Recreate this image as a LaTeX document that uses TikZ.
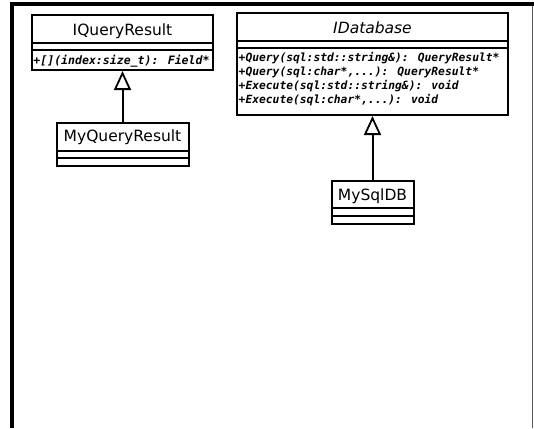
\documentclass[tikz,border=0pt]{standalone}
\usepackage{fontspec}
\setmainfont{DejaVu Sans}
\newfontfamily\opfont{DejaVu Sans Mono}
\usetikzlibrary{arrows.meta}

\tikzset{
  classbox/.style={draw, line width=2pt, inner sep=0pt, fill=white},
  classname/.style={font=\fontsize{15.5}{18}\selectfont, inner sep=0pt},
  abstractname/.style={classname, font=\fontsize{15.5}{18}\selectfont\itshape},
  optext/.style={font=\opfont\bfseries\itshape\fontsize{#1}{14}\selectfont, anchor=west, inner sep=0pt},
  optext/.default=11.3,
  divider/.style={line width=1.8pt},
  realize/.style={line width=2pt, -{Triangle[open, length=19pt, width=17pt, line width=1.8pt]}},
}

\begin{document}
\begin{tikzpicture}[x=1pt, y=-1pt]
  \useasboundingbox (0,0) rectangle (534,428);
  \fill[white] (0,0) rectangle (534,428);

  % frame of the diagram area
  \draw[gray!70!black, line width=1.5pt] (532.5,5) -- (532.5,428);
  \draw[line width=3.5pt] (11.75,428) -- (11.75,4) -- (534,4);

  % IQueryResult
  \node[classbox, minimum width=181pt, minimum height=55pt] (iqr) at (122.5,42.5) {};
  \draw[divider] (iqr.west |- 0,43) -- (iqr.east |- 0,43);
  \draw[divider] (iqr.west |- 0,50) -- (iqr.east |- 0,50);
  \node[classname] (iqrname) at (122.5,31) {IQueryResult};
  \node[optext=11.55] (iqrop) at (33.2,61) {+[](index:size\_t): Field*};

  % MyQueryResult
  \node[classbox, minimum width=132pt, minimum height=43pt] (mqr) at (122.5,144.5) {};
  \draw[divider] (mqr.west |- 0,151) -- (mqr.east |- 0,151);
  \draw[divider] (mqr.west |- 0,158) -- (mqr.east |- 0,158);
  \node[classname] (mqrname) at (122.5,137) {MyQueryResult};

  % IDatabase
  \node[classbox, minimum width=271pt, minimum height=102pt] (idb) at (372.5,64) {};
  \draw[divider] (idb.west |- 0,41) -- (idb.east |- 0,41);
  \draw[divider] (idb.west |- 0,48) -- (idb.east |- 0,48);
  \node[abstractname] (idbname) at (372.5,28) {IDatabase};
  \node[optext] (idbop1) at (238.5,58) {+Query(sql:std::string\&): QueryResult*};
  \node[optext] (idbop2) at (238.5,72) {+Query(sql:char*,...): QueryResult*};
  \node[optext] (idbop3) at (238.5,86) {+Execute(sql:std::string\&): void};
  \node[optext] (idbop4) at (238.5,100) {+Execute(sql:char*,...): void};

  % MySqlDB
  \node[classbox, minimum width=82pt, minimum height=43pt] (msq) at (372.5,202.5) {};
  \draw[divider] (msq.west |- 0,208) -- (msq.east |- 0,208);
  \draw[divider] (msq.west |- 0,216) -- (msq.east |- 0,216);
  \node[classname] (msqname) at (372.5,196) {MySqlDB};

  % realizations
  \draw[realize] (mqr.north) -- (iqr.south);
  \draw[realize] (msq.north) -- (idb.south);
\end{tikzpicture}
\end{document}
